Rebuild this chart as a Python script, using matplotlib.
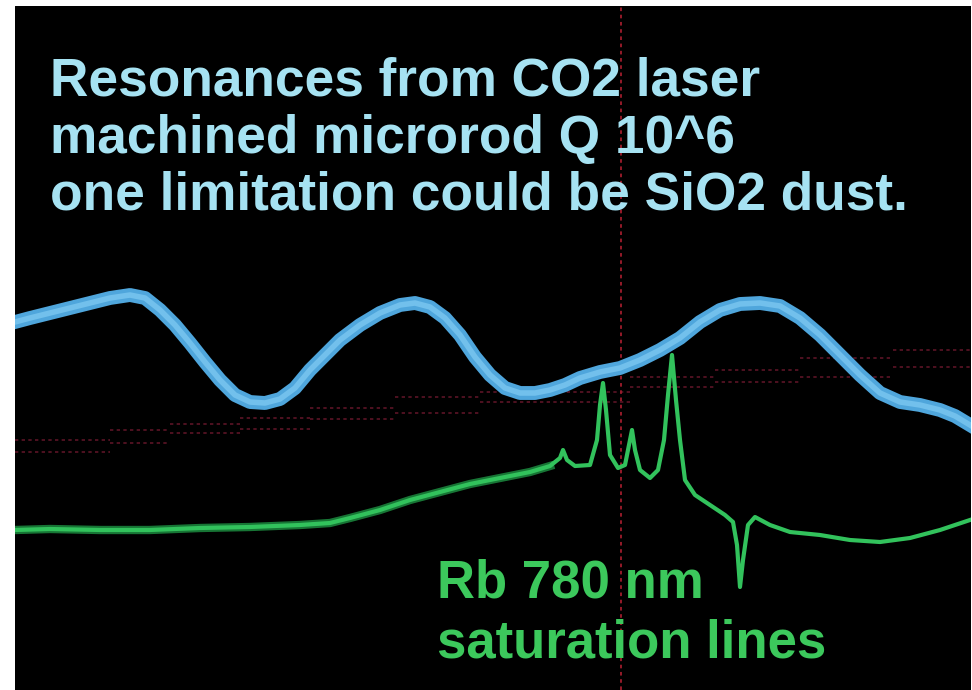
import matplotlib
matplotlib.use("Agg")
import matplotlib.pyplot as plt

# screen readings (pixel-like units, y grows downward)
blue_x = [15, 30, 50, 70, 90, 110, 130, 145, 160, 175, 190, 205, 220, 235, 250, 265, 280, 295,
          310, 325, 340, 360, 380, 400, 415, 430, 445, 460, 475, 490, 505, 520, 535, 550, 565,
          580, 600, 620, 640, 660, 680, 700, 720, 740, 760, 780, 800, 820, 840, 860, 880, 900,
          920, 940, 955, 970]
blue_y = [322, 318, 313, 308, 303, 298, 295, 298, 310, 325, 343, 362, 380, 395, 402, 403, 399, 388,
          370, 355, 340, 325, 313, 305, 303, 307, 318, 335, 357, 375, 388, 393, 393, 390, 385,
          378, 372, 368, 360, 350, 338, 322, 310, 304, 303, 306, 318, 335, 355, 375, 393, 402,
          405, 410, 416, 425]

green_x = [15, 50, 100, 150, 200, 250, 300, 330, 350, 380, 410, 440, 470, 500, 530, 550, 560, 563,
           567, 575, 590, 597, 600, 603, 606, 610, 618, 625, 629, 632, 635, 640, 650, 658, 664,
           668, 672, 676, 680, 685, 695, 710, 725, 733, 737, 740, 743, 748, 755, 770, 790, 820,
           850, 880, 910, 940, 970]
green_y = [530, 529, 530, 530, 528, 527, 525, 523, 518, 510, 500, 492, 484, 478, 472, 466, 458, 450,
           460, 466, 465, 440, 405, 383, 410, 455, 468, 465, 445, 430, 450, 470, 478, 470, 440,
           395, 355, 400, 440, 480, 495, 505, 515, 522, 545, 587, 560, 525, 517, 525, 532, 535,
           540, 542, 538, 530, 520]

# faint reference staircases
step_edges = [15, 110, 170, 240, 310, 395, 480, 630, 715, 800, 893, 970]
upper_steps = [440, 430, 424, 418, 408, 397, 392, 377, 370, 358, 350]
lower_steps = [452, 443, 433, 429, 419, 413, 402, 387, 382, 377, 367]
cursor_x = 621

title_lines = ["Resonances from CO2 laser",
               "machined microrod Q 10^6",
               "one limitation could be SiO2 dust."]
label_lines = ["Rb 780 nm", "saturation lines"]

fig = plt.figure(figsize=(9.72, 6.90), dpi=100, facecolor="white")
ax = fig.add_axes([15 / 972, 0, 956 / 972, 684 / 690])
ax.set_facecolor("black")
ax.set_xlim(15, 971)
ax.set_ylim(690, 6)
ax.axis("off")
ax.add_patch(plt.Rectangle((15, 6), 956, 684, color="black", zorder=0))

# staircase traces
for steps in (upper_steps, lower_steps):
    for i, y in enumerate(steps):
        ax.plot([step_edges[i], step_edges[i + 1]], [y, y], color="#5c1426",
                lw=1.2, ls=(0, (2, 2)), zorder=1)

# cursor
ax.axvline(cursor_x, color="#a01c2c", lw=1.3, ls=(0, (2, 2)), zorder=1)

# blue trace (noise band + core)
ax.plot(blue_x, blue_y, color="#4fa6dc", lw=10, zorder=2)
ax.plot(blue_x, blue_y, color="#72c0ec", lw=4, zorder=3)

# green trace
ax.plot(green_x[:16], green_y[:16], color="#22a84c", lw=6, alpha=0.7, zorder=2)
ax.plot(green_x, green_y, color="#32c25c", lw=3, zorder=3)

for i, line in enumerate(title_lines):
    ax.text(50, 95 + i * 57.5, line, color="#a6e2f2", fontsize=38.3, fontweight="bold",
            family="Liberation Sans", va="baseline", ha="left", zorder=4)

for i, line in enumerate(label_lines):
    ax.text(437, 598 + i * 59, line, color="#3cc85c", fontsize=38, fontweight="bold",
            family="Liberation Sans", va="baseline", ha="left", zorder=4)

plt.savefig("out.png", dpi=100, facecolor="white")
